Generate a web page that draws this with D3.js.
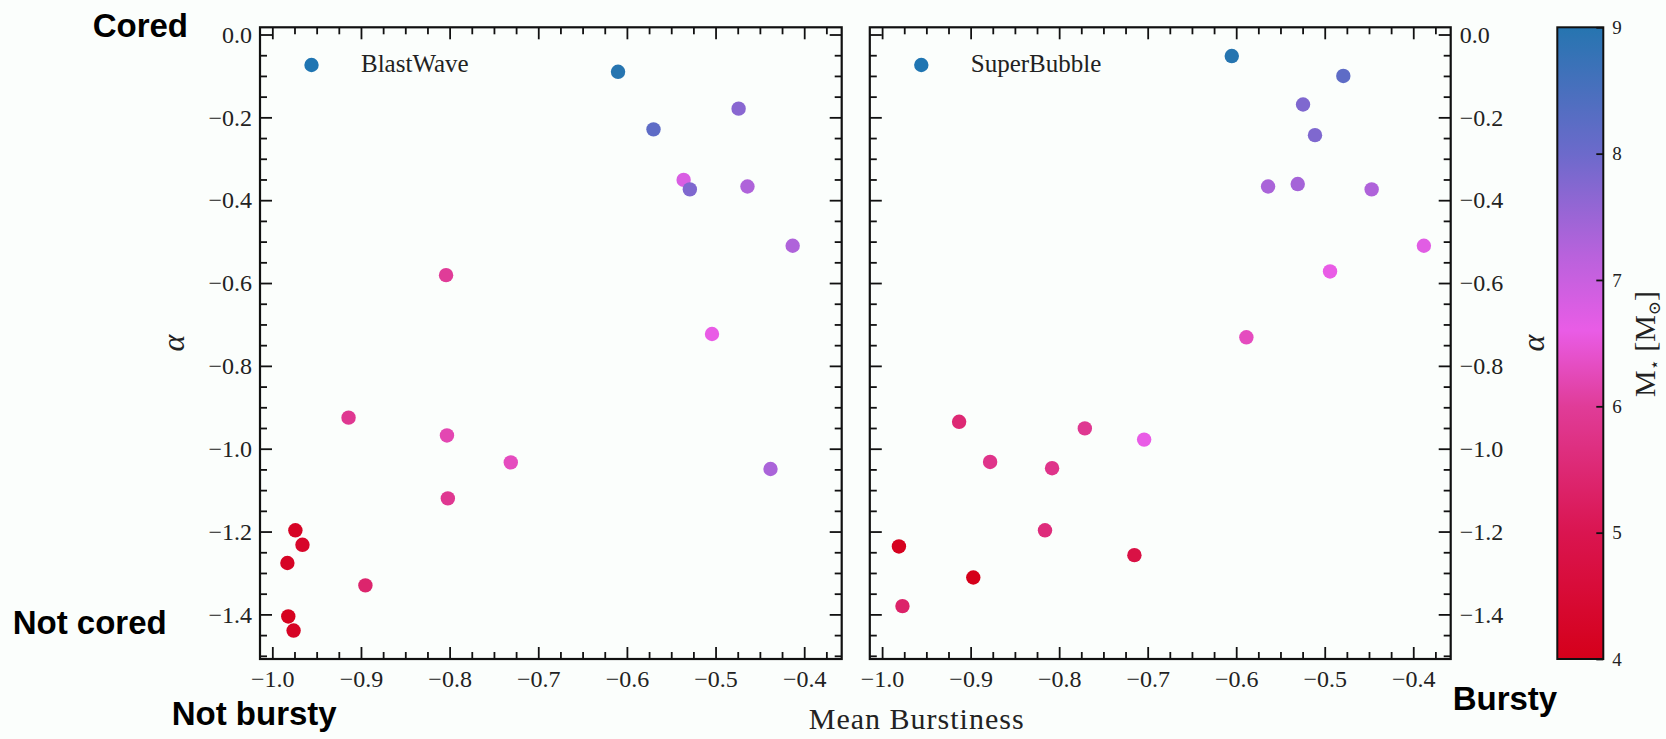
<!DOCTYPE html>
<html>
<head>
<meta charset="utf-8">
<script src="https://cdn.jsdelivr.net/npm/d3@7"></script>
<style>
  html, body { margin: 0; padding: 0; background: #fbfefc; }
  svg { display: block; }
</style>
</head>
<body>
<svg id="chart" width="1666" height="739"></svg>
<script>
// ---------------- DATA ----------------
const burstBW = [-0.610, -0.570, -0.474, -0.536, -0.529, -0.464, -0.413, -0.804, -0.504, -0.914,
                 -0.803, -0.731, -0.802, -0.438, -0.974, -0.966, -0.983, -0.982, -0.976, -0.895];
const alphaBW = [-0.090, -0.229, -0.179, -0.351, -0.374, -0.367, -0.510, -0.581, -0.723, -0.925,
                 -0.968, -1.033, -1.120, -1.049, -1.197, -1.232, -1.276, -1.405, -1.439, -1.330];
const massBW  = [9.0, 8.2, 7.7, 6.8, 7.8, 7.3, 7.3, 6.0, 6.6, 5.9,
                 6.2, 6.3, 5.9, 7.35, 4.2, 4.3, 4.2, 4.1, 4.2, 5.4];

const burstSB = [-0.605, -0.479, -0.5245, -0.511, -0.564, -0.5305, -0.447, -0.388, -0.494, -0.5885,
                 -0.913, -0.771, -0.704, -0.878, -0.808, -0.816, -0.981, -0.715, -0.897, -0.977];
const alphaSB = [-0.052, -0.100, -0.169, -0.243, -0.367, -0.361, -0.374, -0.510, -0.572, -0.731,
                 -0.935, -0.951, -0.978, -1.032, -1.047, -1.197, -1.236, -1.257, -1.311, -1.380];
const massSB  = [9.0, 8.2, 7.8, 7.8, 7.35, 7.4, 7.3, 6.7, 6.6, 6.3,
                 5.5, 5.9, 6.6, 5.8, 5.8, 5.6, 4.1, 4.8, 4.0, 5.35];

const seriesNames = ["BlastWave", "SuperBubble"];
const xTicks = [-1.0, -0.9, -0.8, -0.7, -0.6, -0.5, -0.4];
const yTicks = [0.0, -0.2, -0.4, -0.6, -0.8, -1.0, -1.2, -1.4];
const cbTicks = [4, 5, 6, 7, 8, 9];
const cmapStops = [4, 5, 6, 6.6, 7.2, 8, 9];
const cmapColors = ["#d5001a", "#da1550", "#e03c98", "#e95ce6", "#b862dc", "#6c6acb", "#2675b0"];

// ---------------- LAYOUT ----------------
const svg = d3.select("#chart");
const W = 1666, H = 739;
svg.append("rect").attr("width", W).attr("height", H).attr("fill", "#fbfefc");

const yTop = 27.3, yBot = 659;
const xDomain = [-1.0139, -0.3577];
const yScale = d3.scaleLinear().domain([0.0174, -1.5077]).range([yTop, yBot]);
const color = d3.scaleLinear().domain(cmapStops).range(cmapColors).interpolate(d3.interpolateRgb).clamp(true);

const serif = "'Liberation Serif', 'DejaVu Serif', serif";
const sans = "'Liberation Sans', Arial, sans-serif";
const fmt = d3.format(".1f");

const xMinor = d3.range(-1.0, -0.36, 0.025).map(v => +v.toFixed(3)).filter(v => !xTicks.some(t => Math.abs(t - v) < 1e-6));
const yMinor = d3.range(0, -1.5001, -0.05).map(v => +v.toFixed(3)).filter(v => !yTicks.some(t => Math.abs(t - v) < 1e-6));

const panels = [
  { name: seriesNames[0], xs: burstBW, ys: alphaBW, ms: massBW, range: [260, 841.7], labelSide: "left" },
  { name: seriesNames[1], xs: burstSB, ys: alphaSB, ms: massSB, range: [869.8, 1450.7], labelSide: "right" }
];

function styleAxis(g, size) {
  g.select(".domain").remove();
  g.selectAll(".tick line").attr("stroke", "#111").attr("stroke-width", 1.8);
  g.selectAll(".tick text").attr("fill", "#222").style("font-family", serif).style("font-size", (size || 24) + "px");
}

panels.forEach(p => {
  const x = d3.scaleLinear().domain(xDomain).range(p.range);
  const g = svg.append("g");

  // bottom axis
  g.append("g").attr("transform", `translate(0,${yBot})`)
    .call(d3.axisBottom(x).tickValues(xTicks).tickSize(-12).tickPadding(11).tickFormat(fmt))
    .call(a => styleAxis(a));
  g.append("g").attr("transform", `translate(0,${yBot})`)
    .call(d3.axisBottom(x).tickValues(xMinor).tickSize(-7).tickFormat(""))
    .call(a => styleAxis(a));
  // top axis
  g.append("g").attr("transform", `translate(0,${yTop})`)
    .call(d3.axisTop(x).tickValues(xTicks).tickSize(-12).tickFormat(""))
    .call(a => styleAxis(a));
  g.append("g").attr("transform", `translate(0,${yTop})`)
    .call(d3.axisTop(x).tickValues(xMinor).tickSize(-7).tickFormat(""))
    .call(a => styleAxis(a));
  // left axis
  g.append("g").attr("transform", `translate(${p.range[0]},0)`)
    .call(d3.axisLeft(yScale).tickValues(yTicks).tickSize(-12).tickPadding(8)
      .tickFormat(p.labelSide === "left" ? fmt : ""))
    .call(a => styleAxis(a));
  g.append("g").attr("transform", `translate(${p.range[0]},0)`)
    .call(d3.axisLeft(yScale).tickValues(yMinor).tickSize(-7).tickFormat(""))
    .call(a => styleAxis(a));
  // right axis
  g.append("g").attr("transform", `translate(${p.range[1]},0)`)
    .call(d3.axisRight(yScale).tickValues(yTicks).tickSize(-12).tickPadding(9)
      .tickFormat(p.labelSide === "right" ? fmt : ""))
    .call(a => styleAxis(a));
  g.append("g").attr("transform", `translate(${p.range[1]},0)`)
    .call(d3.axisRight(yScale).tickValues(yMinor).tickSize(-7).tickFormat(""))
    .call(a => styleAxis(a));

  // frame
  g.append("rect")
    .attr("x", p.range[0]).attr("y", yTop)
    .attr("width", p.range[1] - p.range[0]).attr("height", yBot - yTop)
    .attr("fill", "none").attr("stroke", "#111").attr("stroke-width", 2.2);

  // points
  const pts = p.xs.map((v, i) => ({ x: v, y: p.ys[i], m: p.ms[i] }));
  g.append("g").selectAll("circle").data(pts).join("circle")
    .attr("cx", d => x(d.x)).attr("cy", d => yScale(d.y)).attr("r", 7.2)
    .attr("fill", d => color(d.m));

  // legend
  g.append("circle").attr("cx", p.range[0] + 51.5).attr("cy", 65).attr("r", 7.2).attr("fill", "#1f75b2");
  g.append("text").attr("x", p.range[0] + 101).attr("y", 71.5)
    .style("font-family", serif).style("font-size", "25px").attr("fill", "#222").text(p.name);
});

// y labels (alpha)
svg.append("text").attr("transform", "translate(184,343) rotate(-90)")
  .attr("text-anchor", "middle").style("font-family", serif).style("font-style", "italic")
  .style("font-size", "32px").attr("fill", "#222").text("α");
svg.append("text").attr("transform", "translate(1544,343) rotate(-90)")
  .attr("text-anchor", "middle").style("font-family", serif).style("font-style", "italic")
  .style("font-size", "32px").attr("fill", "#222").text("α");

// x label
svg.append("text").attr("x", 916.7).attr("y", 729).attr("text-anchor", "middle")
  .style("font-family", serif).style("font-size", "30px").style("letter-spacing", "1px")
  .attr("fill", "#222").text("Mean Burstiness");

// bold annotations
const ann = [
  { t: "Cored", x: 92.7, y: 36.5 },
  { t: "Not cored", x: 12.7, y: 634.3 },
  { t: "Not bursty", x: 171.7, y: 724.5 },
  { t: "Bursty", x: 1452.7, y: 710 }
];
ann.forEach(a => svg.append("text").attr("x", a.x).attr("y", a.y)
  .style("font-family", sans).style("font-weight", "bold").style("font-size", "33px")
  .attr("fill", "#000").text(a.t));

// ---------------- COLORBAR ----------------
const cbX0 = 1557.3, cbX1 = 1603.3;
const cbScale = d3.scaleLinear().domain([4, 9]).range([yBot, yTop]);
const defs = svg.append("defs");
const grad = defs.append("linearGradient").attr("id", "cbgrad")
  .attr("x1", 0).attr("y1", 1).attr("x2", 0).attr("y2", 0);
cmapStops.forEach((s, i) => grad.append("stop")
  .attr("offset", ((s - 4) / 5 * 100) + "%").attr("stop-color", cmapColors[i]));
svg.append("rect").attr("x", cbX0).attr("y", yTop).attr("width", cbX1 - cbX0).attr("height", yBot - yTop)
  .attr("fill", "url(#cbgrad)").attr("stroke", "#111").attr("stroke-width", 2);
svg.append("g").attr("transform", `translate(${cbX1},0)`)
  .call(d3.axisRight(cbScale).tickValues(cbTicks).tickSize(-7).tickPadding(9).tickFormat(d3.format("d")))
  .call(a => styleAxis(a, 19));

const cbl = svg.append("text").attr("transform", "translate(1655,344) rotate(-90)")
  .attr("text-anchor", "middle").style("font-family", serif).style("font-size", "30px").attr("fill", "#222");
cbl.append("tspan").text("M");
cbl.append("tspan").attr("baseline-shift", "-30%").style("font-size", "17px").text("⋆");
cbl.append("tspan").text(" [M");
cbl.append("tspan").attr("baseline-shift", "-30%").style("font-size", "17px").text("⊙");
cbl.append("tspan").text("]");
</script>
</body>
</html>
